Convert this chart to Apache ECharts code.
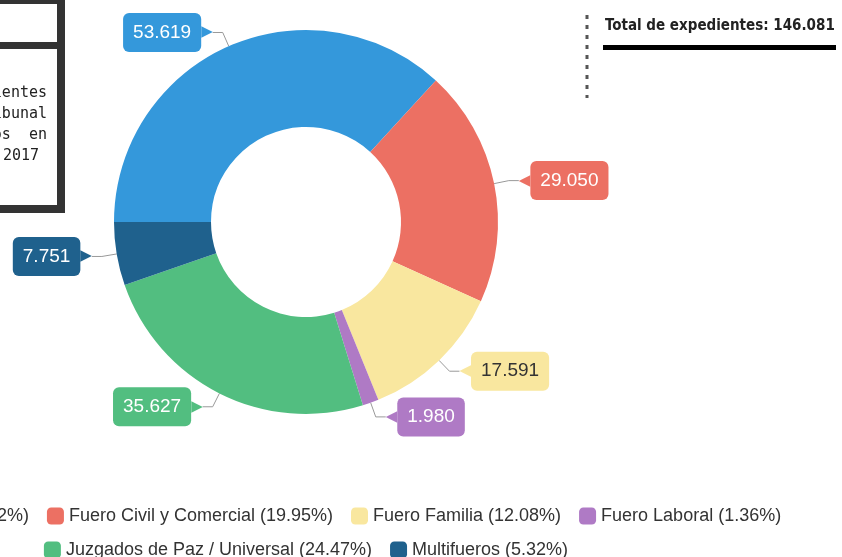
<!DOCTYPE html>
<html>
<head>
<meta charset="utf-8">
<script src="https://cdn.jsdelivr.net/npm/echarts@6/dist/echarts.min.js"></script>
<style>
  html, body { margin: 0; padding: 0; background: #fff; width: 842px; height: 557px; overflow: hidden; position: relative; }
  /* the picture is a crop of a wider chart, so the container sticks out on the left */
  #chart { position: absolute; left: -230px; top: 0; width: 1072px; height: 557px; }
</style>
</head>
<body>
<div id="chart"></div>
<script>
// datos
const categories = ['Fuero Penal', 'Fuero Civil y Comercial', 'Fuero Familia', 'Fuero Laboral', 'Juzgados de Paz / Universal', 'Multifueros'];
const expedientes = [53619, 29050, 17591, 1980, 35627, 7751];
const sliceColors = ['#3498db', '#ec7063', '#f9e79f', '#af7ac5', '#52be80', '#1f618d'];
const labelTextColors = ['#fff', '#fff', '#333', '#fff', '#fff', '#fff'];
const totalLabel = 'Total de expedientes: 146.081';
const boxLines = [
  'Cantidad de expedientes',
  'ingresados en el Superior Tribunal',
  'de Justicia y demás juzgados  en',
  'el año 2017'
];

const OFF = 230; // shift between crop and container
const START = 180;

function miles(v) {
  return String(v).replace(/\B(?=(\d{3})+(?!\d))/g, '.');
}

const sum = expedientes.reduce((a, b) => a + b, 0);

let acc = 0;
const pieData = categories.map((name, i) => {
  const v = expedientes[i];
  const mid = START - (acc + v / 2) / sum * 360;
  acc += v;
  const onLeft = Math.cos(mid * Math.PI / 180) < 0;
  return {
    name: name,
    value: v,
    itemStyle: { color: sliceColors[i] },
    label: {
      formatter: onLeft ? '{v|' + miles(v) + '}{a|▶}' : '{a|◀}{v|' + miles(v) + '}',
      rich: {
        v: {
          backgroundColor: sliceColors[i],
          color: labelTextColors[i],
          fontSize: 19,
          lineHeight: 19,
          padding: [10, 10],
          borderRadius: 6,
          fontFamily: 'Liberation Sans, Arial, sans-serif'
        },
        a: {
          color: sliceColors[i],
          fontSize: 15,
          fontFamily: 'DejaVu Sans'
        }
      }
    }
  };
});

function legendText(name) {
  const i = categories.indexOf(name);
  return name + ' (' + (expedientes[i] / sum * 100).toFixed(2) + '%)';
}

const legendBase = {
  left: 'center',
  itemWidth: 17,
  itemHeight: 17,
  itemGap: 18,
  icon: 'roundRect',
  textStyle: { fontSize: 18, color: '#333', fontFamily: 'Liberation Sans, Arial, sans-serif' },
  formatter: legendText
};

var myChart = echarts.init(document.getElementById('chart'));

var option = {
  animation: false,
  legend: [
    Object.assign({}, legendBase, { top: 502, data: categories.slice(0, 4) }),
    Object.assign({}, legendBase, { top: 536, data: categories.slice(4) })
  ],
  graphic: [
    // recuadro de la izquierda
    { type: 'rect', shape: { x: OFF - 260, y: 0, width: 260 + 61, height: 209 },
      style: { fill: '#fff', stroke: '#333', lineWidth: 8 } },
    { type: 'line', shape: { x1: OFF - 260, y1: 45.5, x2: OFF + 61, y2: 45.5 },
      style: { stroke: '#333', lineWidth: 7 } },
    { type: 'text', x: OFF + 47, y: 93, style: { text: boxLines[0], align: 'right', verticalAlign: 'middle', fontFamily: 'DejaVu Sans Mono', fontSize: 15, fill: '#222' } },
    { type: 'text', x: OFF + 47, y: 114, style: { text: boxLines[1], align: 'right', verticalAlign: 'middle', fontFamily: 'DejaVu Sans Mono', fontSize: 15, fill: '#222' } },
    { type: 'text', x: OFF + 47, y: 135, style: { text: boxLines[2], align: 'right', verticalAlign: 'middle', fontFamily: 'DejaVu Sans Mono', fontSize: 15, fill: '#222' } },
    { type: 'text', x: OFF + 39, y: 156, style: { text: boxLines[3], align: 'right', verticalAlign: 'middle', fontFamily: 'DejaVu Sans Mono', fontSize: 15, fill: '#222' } },
    // total arriba a la derecha
    { type: 'line', shape: { x1: OFF + 587, y1: 15, x2: OFF + 587, y2: 98 },
      style: { stroke: '#555', lineWidth: 3, lineDash: [4, 6] } },
    { type: 'text', x: OFF + 605, y: 26, style: { text: totalLabel, verticalAlign: 'middle', fontFamily: 'DejaVu Sans Condensed, Liberation Sans Narrow, Roboto', fontWeight: 'bold', fontSize: 15, fill: '#222' } },
    { type: 'rect', shape: { x: OFF + 603, y: 45, width: 233, height: 5 }, style: { fill: '#000' } }
  ],
  series: [
    {
      name: 'Expedientes',
      type: 'pie',
      center: ['50%', 222],
      radius: [95, 192],
      startAngle: START,
      clockwise: true,
      label: {
        show: true,
        position: 'outside',
        distanceToLabelLine: 0
      },
      labelLine: {
        show: true,
        length: 15,
        length2: 10,
        lineStyle: { color: '#999', width: 1 }
      },
      data: pieData
    }
  ]
};

myChart.setOption(option);
</script>
</body>
</html>
